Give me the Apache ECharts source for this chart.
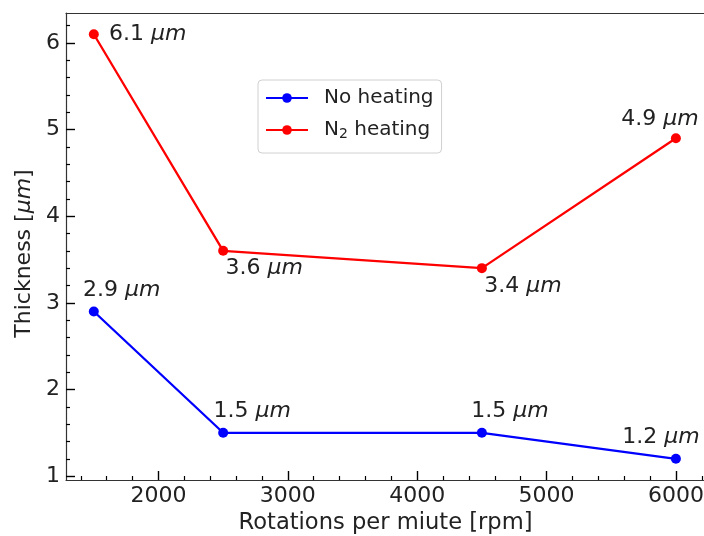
<!DOCTYPE html>
<html>
<head>
<meta charset="utf-8">
<script src="https://cdn.jsdelivr.net/npm/echarts@6/dist/echarts.min.js"></script>
<style>
  html, body { margin: 0; padding: 0; background: #fff; }
  #main { width: 704px; height: 536px; }
</style>
</head>
<body>
<div id="main"></div>
<script>
  // rpm values and thickness (um)
  var rpm = [1500, 2500, 4500, 6000];
  var noHeating = [2.9, 1.5, 1.5, 1.2];
  var n2Heating = [6.1, 3.6, 3.4, 4.9];

  var xMajor = [2000, 3000, 4000, 5000, 6000];
  var xMinor = [1400, 1600, 1800, 2200, 2400, 2600, 2800, 3200, 3400, 3600, 3800,
    4200, 4400, 4600, 4800, 5200, 5400, 5600, 5800, 6200];
  var yMajor = [1, 2, 3, 4, 5, 6];
  var yMinor = [1.2, 1.4, 1.6, 1.8, 2.2, 2.4, 2.6, 2.8, 3.2, 3.4, 3.6, 3.8,
    4.2, 4.4, 4.6, 4.8, 5.2, 5.4, 5.6, 5.8, 6.2];

  var FONT = 'DejaVu Sans';
  var FS = 22;
  var XMIN = 1285, XMAX = 6225, YMIN = 0.955, YMAX = 6.345;

  // where each annotation goes relative to its point (label centre offset)
  var blueLabelPos = [[28, -21], [29, -21], [28, -21], [-15, -21]];
  var redLabelPos = [[54, 0], [41, 17], [41, 18], [-16, -19]];

  function pts(vals, offsets) {
    return vals.map(function (v, i) {
      return {
        value: [rpm[i], v],
        label: {
          show: true,
          position: 'inside',
          offset: offsets[i],
          formatter: '{n|' + v.toFixed(1) + ' }{u|μm}'
        }
      };
    });
  }

  var richLbl = {
    n: { fontFamily: FONT, fontSize: FS, color: '#222' },
    u: { fontFamily: FONT, fontSize: FS, color: '#222', fontStyle: 'italic' }
  };

  var axisLineCfg = { show: true, lineStyle: { color: '#333', width: 1.2 } };
  var plain = function (v) { return String(v); };

  var option = {
    backgroundColor: '#fff',
    animation: false,
    grid: { left: 66, right: -1, top: 13, bottom: 56, show: false, outerBoundsMode: 'none' },
    legend: {
      left: 258, top: 80,
      orient: 'vertical',
      data: ['No heating', 'N2 heating'],
      itemWidth: 42, itemHeight: 12,
      itemGap: 10,
      padding: [7, 8, 12, 7],
      borderColor: '#d0d0d0', borderWidth: 1, borderRadius: 4,
      backgroundColor: '#fff',
      formatter: function (name) {
        return name === 'N2 heating' ? 'N{s|2} heating' : name;
      },
      textStyle: {
        fontFamily: FONT, fontSize: 20, color: '#222', padding: [0, 0, 0, 11], lineHeight: 22,
        rich: {
          s: { fontFamily: FONT, fontSize: 14, color: '#222', verticalAlign: 'bottom', padding: [9, 0, 0, 0] }
        }
      }
    },
    xAxis: [{
      type: 'value', min: XMIN, max: XMAX,
      name: 'Rotations per miute [rpm]',
      nameLocation: 'middle', nameGap: 31,
      nameTextStyle: { fontFamily: FONT, fontSize: 22.6, color: '#222' },
      axisLine: axisLineCfg,
      splitLine: { show: false },
      axisTick: { show: true, inside: true, length: 9, customValues: xMajor,
        lineStyle: { color: '#000', width: 1.4 } },
      axisLabel: { customValues: xMajor, formatter: plain, fontFamily: FONT, fontSize: FS, color: '#222', margin: 5 }
    }, {
      // minor ticks
      type: 'value', min: XMIN, max: XMAX, position: 'bottom',
      axisLine: { show: false },
      axisLabel: { show: false },
      splitLine: { show: false },
      axisTick: { show: true, inside: true, length: 4, customValues: xMinor,
        lineStyle: { color: '#000', width: 1.2 } }
    }, {
      // top spine
      type: 'value', min: XMIN, max: XMAX, position: 'top',
      axisLine: axisLineCfg,
      axisLabel: { show: false },
      axisTick: { show: false },
      splitLine: { show: false }
    }],
    yAxis: [{
      type: 'value', min: YMIN, max: YMAX,
      name: 'Thickness [{i|μm}]',
      nameLocation: 'middle', nameGap: 31,
      nameTextStyle: { fontFamily: FONT, fontSize: FS, color: '#222', padding: [0, 14, 0, 0],
        rich: { i: { fontFamily: FONT, fontSize: FS, color: '#222', fontStyle: 'italic' } } },
      axisLine: axisLineCfg,
      splitLine: { show: false },
      axisTick: { show: true, inside: true, length: 9, customValues: yMajor,
        lineStyle: { color: '#000', width: 1.4 } },
      axisLabel: { customValues: yMajor, formatter: plain, fontFamily: FONT, fontSize: FS, color: '#222', margin: 6 }
    }, {
      // minor ticks
      type: 'value', min: YMIN, max: YMAX, position: 'left',
      axisLine: { show: false },
      axisLabel: { show: false },
      splitLine: { show: false },
      axisTick: { show: true, inside: true, length: 4, customValues: yMinor,
        lineStyle: { color: '#000', width: 1.2 } }
    }],
    series: [{
      name: 'No heating',
      type: 'line',
      symbol: 'circle', symbolSize: 10,
      color: '#0000ff',
      lineStyle: { width: 2.3, color: '#0000ff' },
      label: { rich: richLbl },
      data: pts(noHeating, blueLabelPos)
    }, {
      name: 'N2 heating',
      type: 'line',
      symbol: 'circle', symbolSize: 10,
      color: '#ff0000',
      lineStyle: { width: 2.3, color: '#ff0000' },
      label: { rich: richLbl },
      data: pts(n2Heating, redLabelPos)
    }]
  };

  var chart = echarts.init(document.getElementById('main'));
  chart.setOption(option);
</script>
</body>
</html>
